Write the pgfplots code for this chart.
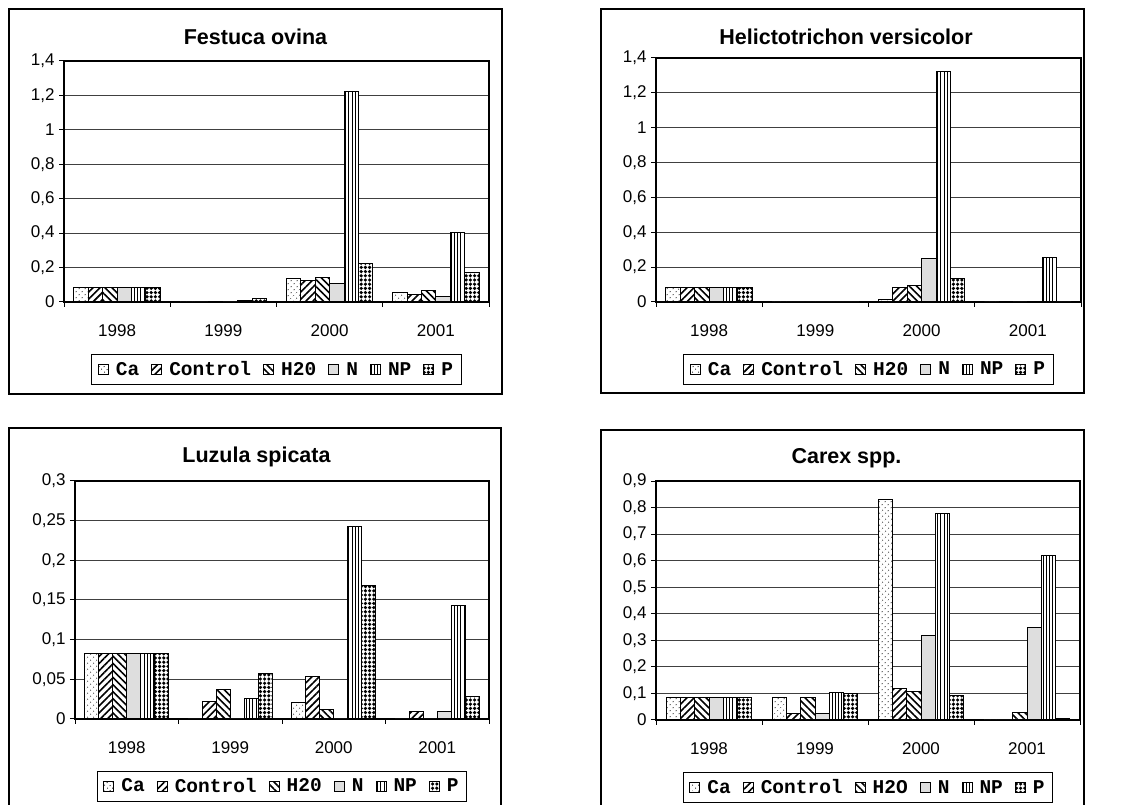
\documentclass[border=0pt]{standalone}
\usepackage{fontspec}
\setmainfont{Liberation Sans}
\newfontfamily\legfont{Liberation Mono}
\usepackage{pgfplots}
\pgfplotsset{compat=1.18}
\usetikzlibrary{patterns.meta}

\pgfplotstableread{
x Ca Control H20 N NP P
0 0.083 0.083 0.083 0.083 0.083 0.083
1 0 0 0.005 0 0.007 0.018
2 0.135 0.124 0.145 0.106 1.224 0.224
3 0.054 0.046 0.066 0.031 0.402 0.170
}\festuca
\pgfplotstableread{
x Ca Control H20 N NP P
0 0.084 0.084 0.084 0.084 0.084 0.084
1 0 0 0 0 0 0
2 0.017 0.082 0.092 0.248 1.322 0.134
3 0 0.004 0 0.004 0.258 0
}\helicto
\pgfplotstableread{
x Ca Control H20 N NP P
0 0.083 0.083 0.083 0.083 0.083 0.083
1 0 0.022 0.037 0 0.026 0.057
2 0.021 0.053 0.012 0 0.243 0.168
3 0 0.010 0 0.010 0.143 0.028
}\luzula
\pgfplotstableread{
x Ca Control H20 N NP P
0 0.085 0.085 0.085 0.085 0.085 0.085
1 0.085 0.023 0.085 0.023 0.104 0.098
2 0.831 0.120 0.109 0.320 0.779 0.094
3 0 0 0.029 0.349 0.620 0.006
}\carex

\pgfplotsset{
 sqlegend/.style={legend image code/.code={\draw[##1] (0pt,-5pt) rectangle (10pt,5pt);}},
 sCa/.style={draw=black, line width=1pt, fill=white, postaction={pattern={Dots[distance=4pt,radius=0.7pt,angle=45]}, pattern color=black!65}},
 sControl/.style={draw=black, line width=1pt, fill=white, postaction={pattern={Lines[angle=45,distance=5pt,line width=1.6pt]}, pattern color=black}},
 sH20/.style={draw=black, line width=1pt, fill=white, postaction={pattern={Lines[angle=-45,distance=5pt,line width=1.6pt]}, pattern color=black}},
 sN/.style={draw=black, line width=1pt, fill=white, postaction={pattern={Dots[distance=2pt,radius=0.6pt]}, pattern color=black!55}},
 sNP/.style={draw=black, line width=1pt, fill=white, postaction={pattern={Lines[angle=90,distance=3.2pt,line width=0.95pt]}, pattern color=black}},
 sP/.style={draw=black, line width=1pt, fill=white, postaction={pattern={Dots[distance=4.2pt,radius=1.8pt]}, pattern color=black}},
 panel/.style={
  scale only axis, anchor=south west,
  ybar=0pt,
  every axis plot post/.append style={/pgfplots/sqlegend},
  xmin=-0.5, xmax=3.5, ymin=0,
  axis line style={black, line width=1.2pt},
  xtick={-0.5,0.5,1.5,2.5,3.5}, xticklabels={},
  extra x ticks={0,1,2,3}, extra x tick labels={1998,1999,2000,2001},
  extra x tick style={major tick length=0pt, xticklabel style={yshift=-19pt}},
  xtick pos=bottom, ytick pos=left, tick align=outside,
  major tick length=5pt,
  tick style={black, line width=1pt},
  ymajorgrids, major grid style={black!75, line width=1pt},
  tick label style={font=\fontsize{17}{19}\selectfont},
  yticklabel style={xshift=-1pt},
  legend columns=6,
  legend style={draw=black, line width=1pt, anchor=north,
    font=\fontsize{19.5}{21}\selectfont\legfont\bfseries,
    /tikz/every even column/.append style={column sep=10pt},
    /tikz/every odd column/.append style={column sep=5pt},
    inner xsep=6pt, inner ysep=5pt},
  legend cell align=left,
 },
}

\begin{document}
\begin{tikzpicture}
\useasboundingbox (0,0) rectangle (1148pt,805pt);
% frames
\draw[line width=1.5pt] (9pt,411pt) rectangle (502pt,796pt);
\draw[line width=1.5pt] (601pt,412pt) rectangle (1084pt,796pt);
\draw[line width=1.5pt] (9pt,-5pt) rectangle (501pt,377pt);
\draw[line width=1.5pt] (601pt,-5pt) rectangle (1084pt,375pt);
% titles
\node[font=\fontsize{21.5}{24}\selectfont\bfseries] at (255.5pt,768pt) {Festuca ovina};
\node[font=\fontsize{21.5}{24}\selectfont\bfseries] at (846pt,768pt) {Helictotrichon versicolor};
\node[font=\fontsize{21.5}{24}\selectfont\bfseries] at (256.5pt,348pt) {Luzula spicata};
\node[font=\fontsize{21.5}{24}\selectfont\bfseries] at (846.5pt,347pt) {Carex spp.};

\begin{axis}[panel, at={(64pt,503pt)}, width=425pt, height=241pt, bar width=14.4pt,
  ymax=1.4, ytick={0,0.2,0.4,0.6,0.8,1,1.2,1.4},
  yticklabels={0,{0,2},{0,4},{0,6},{0,8},1,{1,2},{1,4}},
  legend style={at={(0.5,-0.216)}}]
\addplot[sCa] table[x=x,y=Ca]{\festuca};
\addplot[sControl] table[x=x,y=Control]{\festuca};
\addplot[sH20] table[x=x,y=H20]{\festuca};
\addplot[sN] table[x=x,y=N]{\festuca};
\addplot[sNP] table[x=x,y=NP]{\festuca};
\addplot[sP] table[x=x,y=P]{\festuca};
\legend{Ca,Control,H20,N,NP,P}
\end{axis}

\begin{axis}[panel, at={(656pt,503pt)}, width=425pt, height=244pt, bar width=14.4pt,
  ymax=1.4, ytick={0,0.2,0.4,0.6,0.8,1,1.2,1.4},
  yticklabels={0,{0,2},{0,4},{0,6},{0,8},1,{1,2},{1,4}},
  legend style={at={(0.5,-0.213)}}]
\addplot[sCa] table[x=x,y=Ca]{\helicto};
\addplot[sControl] table[x=x,y=Control]{\helicto};
\addplot[sH20] table[x=x,y=H20]{\helicto};
\addplot[sN] table[x=x,y=N]{\helicto};
\addplot[sNP] table[x=x,y=NP]{\helicto};
\addplot[sP] table[x=x,y=P]{\helicto};
\legend{Ca,Control,H20,N,NP,P}
\end{axis}

\begin{axis}[panel, at={(75pt,86pt)}, width=414pt, height=238pt, bar width=14pt,
  ymax=0.3, ytick={0,0.05,0.1,0.15,0.2,0.25,0.3},
  yticklabels={0,{0,05},{0,1},{0,15},{0,2},{0,25},{0,3}},
  legend style={at={(0.5,-0.218)}}]
\addplot[sCa] table[x=x,y=Ca]{\luzula};
\addplot[sControl] table[x=x,y=Control]{\luzula};
\addplot[sH20] table[x=x,y=H20]{\luzula};
\addplot[sN] table[x=x,y=N]{\luzula};
\addplot[sNP] table[x=x,y=NP]{\luzula};
\addplot[sP] table[x=x,y=P]{\luzula};
\legend{Ca,Control,H20,N,NP,P}
\end{axis}

\begin{axis}[panel, at={(656pt,85pt)}, width=424pt, height=239pt, bar width=14.3pt,
  ymax=0.9, ytick={0,0.1,0.2,0.3,0.4,0.5,0.6,0.7,0.8,0.9},
  yticklabels={0,{0,1},{0,2},{0,3},{0,4},{0,5},{0,6},{0,7},{0,8},{0,9}},
  legend style={at={(0.5,-0.218)}}]
\addplot[sCa] table[x=x,y=Ca]{\carex};
\addplot[sControl] table[x=x,y=Control]{\carex};
\addplot[sH20] table[x=x,y=H20]{\carex};
\addplot[sN] table[x=x,y=N]{\carex};
\addplot[sNP] table[x=x,y=NP]{\carex};
\addplot[sP] table[x=x,y=P]{\carex};
\legend{Ca,Control,H2O,N,NP,P}
\end{axis}
\end{tikzpicture}
\end{document}
